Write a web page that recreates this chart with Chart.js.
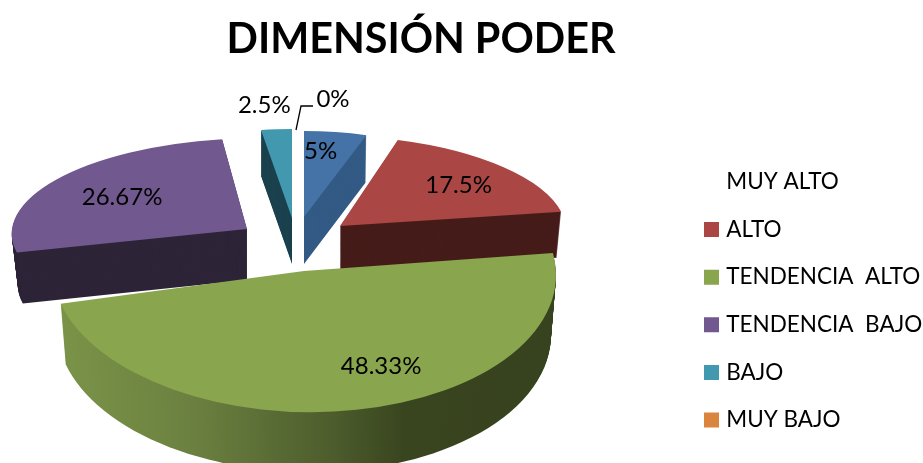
<!DOCTYPE html>
<html>
<head>
<meta charset="utf-8">
<title>Dimensión Poder</title>
<script src="https://cdn.jsdelivr.net/npm/chart.js@4"></script>
<style>
  html, body { margin: 0; padding: 0; background: #fff; overflow: hidden; }
  canvas { display: block; }
</style>
</head>
<body>
<canvas id="chart" width="923" height="463"></canvas>
<script>
const categories = ['MUY ALTO', 'ALTO', 'TENDENCIA  ALTO', 'TENDENCIA  BAJO', 'BAJO', 'MUY BAJO'];
const percentages = [5, 17.5, 48.33, 26.67, 2.5, 0];
const topColors = ['#4572A7', '#AA4643', '#89A54E', '#71588F', '#4198AF', '#DB843D'];
const sideColors = ['#325A84', '#451C19', '#3A4520', '#2D2438', '#1B424E', '#DB843D'];

// fake 3D: every slice gets its own explode offset, foreshortening and extrusion
const pieCenter = { x: 305, y: 240 };
const pieRadius = 250;
const sliceLook = [
  { explode: [-1, -23], radius: 202, squash: 0.426, skew: 0, tilt: 0, depth: 47, shrink: 0.01, label: [0.75, -7, -2] },
  { explode: [35, -14], radius: 226, squash: 0.4, skew: 0.14, tilt: 0, depth: 46, shrink: 0.02, label: [0.7, 4, 0] },
  { explode: [-1, 31], radius: 252, squash: 0.56, skew: 0, tilt: 0.016, depth: 60, shrink: 0.02, label: [0.67, 42, 2] },
  { explode: [-58, -11], radius: 235, squash: 0.387, skew: -0.133, tilt: 0, depth: 51, shrink: 0.026, label: [0.64, -3, 0] },
  { explode: [-13, -22], radius: 198, squash: 0.45, skew: 0, tilt: 0, depth: 46, shrink: 0, label: [1.27, -8, 0] },
  { explode: [-8, -22], radius: 200, squash: 0.42, skew: 0, tilt: 0, depth: 0, shrink: 0, label: [1.41, 36, 0] }
];
const drawOrder = [4, 0, 1, 3, 2, 5];

function placeSlice(ctx, el, look, depth, shrink) {
  const scale = look.radius / pieRadius;
  ctx.translate(pieCenter.x + look.explode[0], pieCenter.y + look.explode[1] + depth);
  ctx.transform(1, look.tilt, look.skew, 1, 0, 0);
  ctx.scale(scale * (1 - shrink), scale * look.squash);
  ctx.translate(-el.x, -el.y);
}

function sideFill(ctx, el, i) {
  if (i !== 2) return sideColors[i];
  const g = ctx.createLinearGradient(el.x - pieRadius, 0, el.x + pieRadius, 0);
  g.addColorStop(0, '#7B9448');
  g.addColorStop(0.28, '#6B8040');
  g.addColorStop(0.56, '#4C5C2C');
  g.addColorStop(0.7, '#39451F');
  g.addColorStop(1, '#37421E');
  return g;
}

const pie3d = {
  id: 'pie3d',
  afterLayout(chart) {
    chart.titleBlock.left = 0;
    chart.titleBlock.right = 842;
    const legend = chart.legend;
    legend.left = 708 - 25.1;
    legend.right = 923;
    legend.top = 170.75 - 25.1;
    legend.bottom = 600;
  },
  beforeDatasetDraw() {
    return false;
  },
  afterDatasetsDraw(chart) {
    const ctx = chart.ctx;
    const arcs = chart.getDatasetMeta(0).data;
    drawOrder.forEach(i => {
      const el = arcs[i];
      const look = sliceLook[i];
      if (percentages[i] === 0) return;
      for (let d = look.depth; d > 0; d--) {
        ctx.save();
        placeSlice(ctx, el, look, d, look.shrink * d / look.depth);
        ctx.fillStyle = sideFill(ctx, el, i);
        ctx.beginPath();
        ctx.moveTo(el.x, el.y);
        ctx.arc(el.x, el.y, el.outerRadius, el.startAngle, el.endAngle);
        ctx.closePath();
        ctx.fill();
        ctx.restore();
      }
      ctx.save();
      placeSlice(ctx, el, look, 0, 0);
      el.draw(ctx);
      ctx.restore();
    });

    ctx.save();
    ctx.fillStyle = '#000';
    ctx.font = '24px Lato';
    ctx.textAlign = 'center';
    ctx.textBaseline = 'middle';
    arcs.forEach((el, i) => {
      const look = sliceLook[i];
      const mid = (el.startAngle + el.endAngle) / 2;
      const reach = look.label[0] * look.radius;
      const cx = Math.cos(mid) * reach;
      const cy = Math.sin(mid) * reach * look.squash;
      ctx.fillText(percentages[i] + '%',
        pieCenter.x + look.explode[0] + cx + look.skew * cy + look.label[1],
        pieCenter.y + look.explode[1] + cy + look.tilt * cx + look.label[2]);
    });
    ctx.restore();

    // leader line of the 0% label
    ctx.save();
    ctx.strokeStyle = '#000';
    ctx.lineWidth = 1.3;
    ctx.beginPath();
    ctx.moveTo(296, 130);
    ctx.lineTo(301, 106);
    ctx.lineTo(313, 106);
    ctx.stroke();
    ctx.restore();
  }
};

new Chart(document.getElementById('chart'), {
  type: 'pie',
  plugins: [pie3d],
  data: {
    labels: categories,
    datasets: [{
      data: percentages,
      backgroundColor: topColors,
      borderWidth: 0,
      radius: pieRadius
    }]
  },
  options: {
    responsive: false,
    animation: false,
    rotation: 0,
    plugins: {
      tooltip: { enabled: false },
      title: {
        display: true,
        text: 'DIMENSIÓN PODER',
        color: '#000',
        font: { family: 'Lato', size: 41.3, weight: 'bold' },
        padding: { top: 15, bottom: 10 }
      },
      legend: {
        position: 'right',
        align: 'start',
        labels: {
          color: '#000',
          font: { family: 'Lato', size: 22.5 },
          boxWidth: 7,
          boxHeight: 7,
          padding: 25.1,
          generateLabels(chart) {
            return categories.map((text, i) => ({
              text,
              fillStyle: i === 0 ? 'transparent' : topColors[i],
              strokeStyle: i === 0 ? 'transparent' : topColors[i],
              lineWidth: i === 0 ? 0 : 8,
              index: i
            }));
          }
        }
      }
    }
  }
});
</script>
</body>
</html>
